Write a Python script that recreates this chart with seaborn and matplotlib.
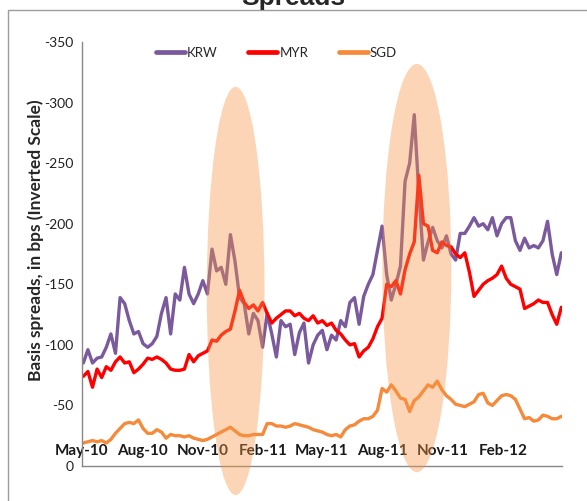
import numpy as np
import pandas as pd
import matplotlib
matplotlib.use("Agg")
import matplotlib.pyplot as plt
import matplotlib.dates as mdates
from matplotlib.patches import Ellipse, Rectangle
import seaborn as sns

# Weekly basis spreads (bps), May 2010 - Apr 2012
dates = pd.date_range("2010-05-03", periods=105, freq="W-MON")

krw = [-85, -96, -85, -89, -90, -98, -109, -93, -139, -134,
       -120, -109, -111, -101, -98, -101, -107, -126, -139, -109,
       -142, -137, -164, -142, -134, -142, -153, -142, -179, -161,
       -164, -150, -191, -169, -139, -134, -109, -126, -120, -98,
       -126, -109, -90, -120, -115, -117, -92, -110, -118, -85,
       -100, -108, -112, -96, -108, -104, -120, -115, -135, -139,
       -117, -140, -150, -158, -178, -198, -158, -137, -150, -165,
       -235, -250, -290, -225, -170, -185, -197, -186, -180, -190,
       -175, -170, -192, -192, -198, -205, -198, -200, -195, -205,
       -190, -200, -205, -205, -186, -178, -188, -180, -182, -180,
       -186, -202, -175, -158, -176]

myr = [-74, -78, -65, -80, -73, -82, -79, -86, -90, -85,
       -86, -77, -80, -84, -89, -88, -90, -88, -85, -80,
       -79, -79, -80, -92, -86, -91, -93, -95, -104, -103,
       -108, -111, -113, -128, -145, -135, -130, -133, -128, -135,
       -126, -118, -122, -125, -128, -128, -124, -126, -122, -120,
       -124, -118, -120, -116, -118, -112, -109, -104, -100, -101,
       -90, -95, -98, -105, -115, -122, -150, -148, -153, -142,
       -162, -175, -185, -240, -200, -198, -178, -176, -185, -182,
       -181, -175, -172, -176, -160, -140, -145, -150, -153, -155,
       -158, -165, -155, -150, -148, -146, -130, -132, -134, -137,
       -135, -135, -125, -117, -131]

sgd = [-19, -20, -21, -20, -21, -19, -22, -27, -31, -35,
       -36, -35, -38, -31, -27, -27, -30, -28, -23, -26,
       -25, -25, -24, -25, -23, -22, -21, -22, -24, -26,
       -28, -30, -32, -29, -26, -25, -25, -26, -26, -26,
       -35, -35, -33, -33, -32, -33, -35, -34, -33, -32,
       -30, -29, -28, -26, -25, -26, -24, -30, -33, -34,
       -37, -39, -39, -41, -46, -64, -61, -67, -62, -56,
       -55, -45, -54, -57, -62, -67, -65, -70, -63, -58,
       -55, -51, -50, -49, -51, -53, -59, -60, -52, -50,
       -54, -58, -59, -58, -55, -47, -39, -40, -37, -38,
       -42, -41, -39, -39, -41]

currencies = ["KRW", "MYR", "SGD"]
colors = {"KRW": "#7A5A9C", "MYR": "#FF0000", "SGD": "#F58A3A"}

df = pd.DataFrame({"date": dates, "KRW": krw, "MYR": myr, "SGD": sgd})
long = df.melt(id_vars="date", var_name="currency", value_name="spread")

sns.set_style("white")
plt.rcParams["font.family"] = ["Lato", "DejaVu Sans"]

fig = plt.figure(figsize=(5.87, 5.01), dpi=100)
ax = fig.add_axes([82 / 587, 35 / 501, 480 / 587, 424 / 501])

sns.lineplot(data=long, x="date", y="spread", hue="currency",
             hue_order=currencies, palette=colors, linewidth=2.4,
             ax=ax, legend=False)

# Stress episodes highlighted with translucent ellipses
episodes = [("2010-12-21", 88, -144.5, 337), ("2011-09-23", 105, -163.4, 337)]
for centre, width_days, yc, h in episodes:
    e = Ellipse((mdates.date2num(pd.Timestamp(centre)), yc), width_days, h,
                facecolor="#F79646", edgecolor="none", alpha=0.4,
                zorder=5, clip_on=False)
    ax.add_patch(e)

ax.set_xlim(pd.Timestamp("2010-05-01"), pd.Timestamp("2012-05-01"))
ax.set_ylim(0, -350)
ax.set_yticks(np.arange(0, -351, -50))
ax.set_yticklabels([str(v) for v in np.arange(0, -351, -50)], fontsize=10)

tick_dates = pd.date_range("2010-05-01", "2012-05-01", freq="3MS")
ax.set_xticks(tick_dates)
ax.set_xticklabels([d.strftime("%b-%y") if i < len(tick_dates) - 1 else ""
                    for i, d in enumerate(tick_dates)],
                   fontsize=11, fontweight="bold")
ax.tick_params(axis="x", direction="in", length=5, width=1, color="#888888",
               pad=-16, labelcolor="#1a1a1a")
ax.tick_params(axis="y", direction="out", length=4, width=1, color="#888888",
               pad=2, labelcolor="#222222")
ax.set_xlabel("")
ax.set_ylabel("Basis spreads, in bps (Inverted Scale)", fontsize=12.5,
              fontweight="bold")
ax.yaxis.set_label_coords(-0.079, 0.533)

for s in ["top", "right"]:
    ax.spines[s].set_visible(False)
for s in ["left", "bottom"]:
    ax.spines[s].set_color("#888888")
    ax.spines[s].set_linewidth(1)

handles = [plt.Line2D([], [], color=colors[c], lw=3.4) for c in currencies]
ax.legend(handles, currencies, loc="center", bbox_to_anchor=(0.405, 0.974),
          ncol=3, frameon=False, fontsize=9.5, handlelength=2.2,
          handletextpad=0.15, columnspacing=2.3)

fig.add_artist(Rectangle((8 / 587, -0.1), 1.2, 1.1 - 10 / 501,
                         transform=fig.transFigure, fill=False,
                         edgecolor="#9C9C9C", linewidth=1))
fig.text(0.499, 0.99, "Spreads", ha="center", va="baseline",
         fontsize=19, fontweight="bold", family=["Liberation Sans"])

fig.savefig("out.png", dpi=100, facecolor="white")
